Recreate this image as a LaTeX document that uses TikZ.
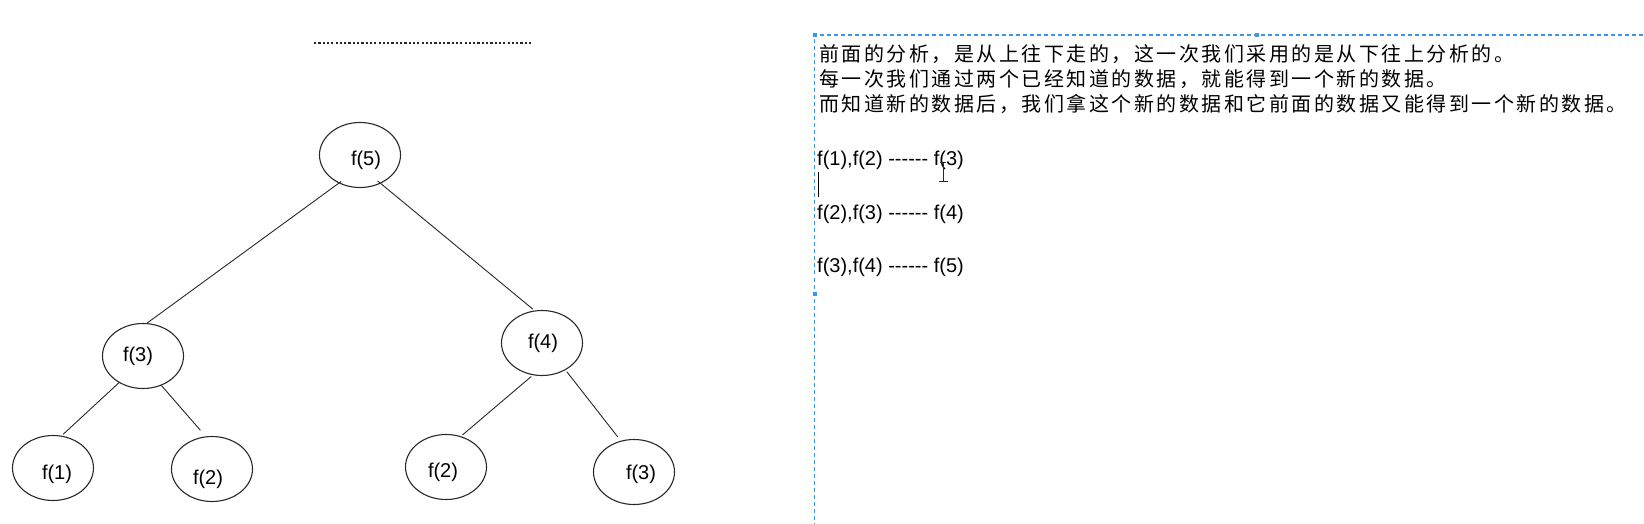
\documentclass[tikz,border=0pt]{standalone}
\usepackage{fontspec}
\setmainfont{Liberation Sans}
\newfontfamily\cjk{Noto Sans CJK SC}[LetterSpace=12.5]
\usetikzlibrary{shapes.geometric}
\definecolor{selblue}{RGB}{60,150,240}
\definecolor{inkgray}{RGB}{40,40,40}
\newcommand\sixdash{-\kern0pt-\kern0pt-\kern0pt-\kern0pt-\kern0pt-}
\tikzset{
  fnode/.style={draw=inkgray, ellipse, minimum width=81pt, minimum height=65pt, inner sep=0pt, line width=1.1pt},
  flabel/.style={font=\fontsize{20}{24}\selectfont, inner sep=0pt},
  edgeline/.style={draw=inkgray, line width=0.9pt},
  cjktxt/.style={anchor=west, inner sep=0pt, font=\cjk\fontsize{20}{23}\selectfont},
  ftxt/.style={anchor=west, inner sep=0pt, font=\fontsize{20}{24}\selectfont},
  handle/.style={fill=selblue, inner sep=0pt, minimum size=4pt},
}
\begin{document}
\begin{tikzpicture}[x=1pt,y=-1pt]
\useasboundingbox (0,0) rectangle (1644,524);
\fill[white] (0,0) rectangle (1644,524);

% dotted line at top left
\draw[inkgray, line width=2.4pt, dash pattern=on 2.2pt off 2.1pt] (314,43) -- (532,43);

% tree nodes
\node[fnode] (e5) at (360,155) {};
\node[fnode] (e3) at (143,356) {};
\node[fnode] (e4) at (542,343) {};
\node[fnode] (e1) at (53,468) {};
\node[fnode] (e2a) at (212,469) {};
\node[fnode] (e2b) at (446,467) {};
\node[fnode] (e3b) at (634,472) {};

% labels
\node[flabel] (t5) at (366,160) {f(5)};
\node[flabel] (t3) at (138,356) {f(3)};
\node[flabel] (t4) at (543,343) {f(4)};
\node[flabel] (t1) at (57,474) {f(1)};
\node[flabel] (t2a) at (208,479) {f(2)};
\node[flabel] (t2b) at (443,472) {f(2)};
\node[flabel] (t3b) at (641,474) {f(3)};

% connectors
\draw[edgeline, shorten <=-3pt] (e5.233) -- (e3.83);
\draw[edgeline, shorten <=-4pt, shorten >=2pt] (e5.306) -- (e4.103);
\draw[edgeline, shorten >=2pt] (e3.228) -- (e1.75);
\draw[edgeline, shorten >=8pt] (e3.302) -- (e2a.101);
\draw[edgeline, shorten <=2pt, shorten >=2pt] (e4.254) -- (e2b.64);
\draw[edgeline, shorten <=2pt, shorten >=5pt] (e4.311) -- (e3b.113);

% selection box (dashed)
\coordinate (boxtr) at (1650,35);
\coordinate (boxtl) at (814.5,35);
\coordinate (boxbl) at (814.5,530);
\draw[selblue, line width=1.3pt, dash pattern=on 4pt off 3pt] (boxtr) -- (boxtl) -- (boxbl);
\node[handle] (h1) at (boxtl) {};
\node[handle] (h2) at (1257,35) {};
\node[handle] (h3) at (814.5,294) {};

% paragraph text
\node[cjktxt] (l1) at (819,54) {前面的分析，是从上往下走的，这一次我们采用的是从下往上分析的。};
\node[cjktxt] (l2) at (819,79) {每一次我们通过两个已经知道的数据，就能得到一个新的数据。};
\node[cjktxt] (l3) at (819,104) {而知道新的数据后，我们拿这个新的数据和它前面的数据又能得到一个新的数据。};

\node[ftxt] (r1) at (817,160) {f(1),f(2) \sixdash{} f(3)};
\node[ftxt] (r2) at (817,214) {f(2),f(3) \sixdash{} f(4)};
\node[ftxt] (r3) at (817,267) {f(3),f(4) \sixdash{} f(5)};

% text caret
\coordinate (c1) at (818.5,172);
\coordinate (c2) at (818.5,197);
\draw[black, line width=1.5pt] (c1) -- (c2);

% I-beam mouse cursor
\coordinate (ib1) at (943,163);
\coordinate (ib2) at (943,181);
\coordinate (ib3) at (939,181);
\coordinate (ib4) at (948,181);
\coordinate (ib5) at (940,163);
\coordinate (ib6) at (946,163);
\draw[inkgray, line width=1pt] (ib1) -- (ib2) (ib3) -- (ib4) (ib5) -- (ib6);
\end{tikzpicture}
\end{document}
